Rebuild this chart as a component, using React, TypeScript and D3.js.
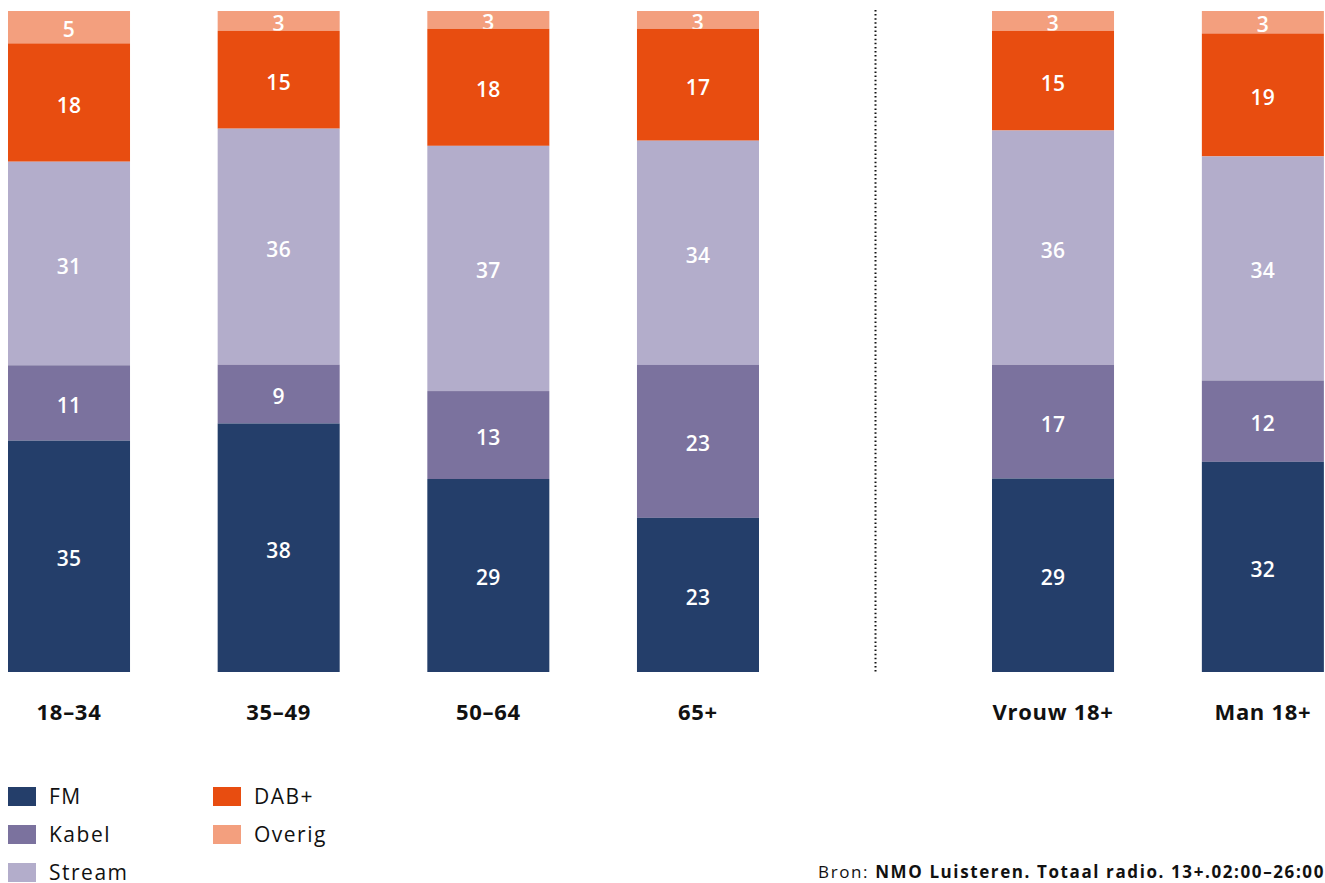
import React from "react";
import * as d3 from "d3";

const groupLeft = ["18–34", "35–49", "50–64", "65+"];
const groupRight = ["Vrouw 18+", "Man 18+"];
const categories = [...groupLeft, ...groupRight];
const seriesKeys = ["FM", "Kabel", "Stream", "DAB+", "Overig"];

const fmValues = [35.0, 37.6, 29.2, 23.3, 29.3, 31.8];
const kabelValues = [11.4, 8.9, 13.3, 23.1, 17.2, 12.3];
const streamValues = [30.8, 35.7, 37.1, 33.9, 35.5, 33.9];
const dabValues = [17.9, 14.8, 17.7, 16.9, 15.1, 18.6];
const overigValues = [4.9, 3.0, 2.7, 2.7, 3.0, 3.4];

const colors: Record<string, string> = {
  FM: "#243e6a",
  Kabel: "#7b729e",
  Stream: "#b3adcb",
  "DAB+": "#e84d10",
  Overig: "#f39f7e",
};

const legendCol1 = ["FM", "Kabel", "Stream"];
const legendCol2 = ["DAB+", "Overig"];

const sourcePrefix = "Bron: ";
const sourceBold = "NMO Luisteren. Totaal radio. 13+.02:00–26:00";

const W = 1325;
const H = 883;
const FONT = "'Open Sans', sans-serif";

export default function App() {
  const rows = categories.map((c, i) => ({
    cat: c,
    FM: fmValues[i],
    Kabel: kabelValues[i],
    Stream: streamValues[i],
    "DAB+": dabValues[i],
    Overig: overigValues[i],
  }));
  const stack = d3
    .stack<any>()
    .keys(seriesKeys)
    .offset(d3.stackOffsetExpand);
  const series = stack(rows);

  const xLeft = d3.scaleBand<string>().domain(groupLeft).range([8, 759]).paddingInner(0.418).paddingOuter(0);
  const xRight = d3.scaleBand<string>().domain(groupRight).range([992, 1324]).paddingInner(0.418).paddingOuter(0);
  const xPos = (c: string) => (groupLeft.includes(c) ? xLeft(c)! : xRight(c)!);
  const bw = xLeft.bandwidth();
  const y = d3.scaleLinear().domain([0, 1]).range([672, 11]);

  const ordered = [...series].reverse();

  return (
    <svg width={W} height={H} style={{ position: "absolute", left: 0, top: 0 }} fontFamily={FONT}>
      <rect width={W} height={H} fill="#fff" />
      {ordered.map((s) => (
        <g key={s.key}>
          {s.map((d, i) => {
            const c = categories[i];
            const x0 = xPos(c);
            const y0 = y(d[1]);
            const y1 = y(d[0]);
            const raw = (rows[i] as any)[s.key] as number;
            return (
              <g key={c}>
                <rect x={x0} y={y0} width={bw} height={y1 - y0} fill={colors[s.key]} />
                <text
                  x={x0 + bw / 2}
                  y={(y0 + y1) / 2 + 10}
                  textAnchor="middle"
                  fill="#fff"
                  fontSize={21}
                  fontWeight={600}
                  letterSpacing={0.3}
                >
                  {Math.round(raw)}
                </text>
              </g>
            );
          })}
        </g>
      ))}
      <line x1={875.5} x2={875.5} y1={10} y2={672} stroke="#111" strokeWidth={2} strokeDasharray="1.5 2.6" />
      {categories.map((c) => (
        <text
          key={c}
          x={xPos(c) + bw / 2}
          y={720}
          textAnchor="middle"
          fontSize={22}
          fontWeight={700}
          fill="#111"
          letterSpacing={0.7}
        >
          {c}
        </text>
      ))}
      {[legendCol1, legendCol2].map((col, ci) =>
        col.map((k, ri) => {
          const lx = ci === 0 ? 8 : 213;
          const ly = 787 + ri * 38;
          return (
            <g key={k}>
              <rect x={lx} y={ly} width={28} height={19} fill={colors[k]} />
              <text x={lx + 41} y={ly + 16.5} fontSize={21} fill="#111" letterSpacing={1.5}>
                {k}
              </text>
            </g>
          );
        })
      )}
      <text x={1325} y={878} textAnchor="end" fontSize={17} fill="#111" letterSpacing={1.6}>
        <tspan>{sourcePrefix}</tspan>
        <tspan fontWeight={700}>{sourceBold}</tspan>
      </text>
    </svg>
  );
}
